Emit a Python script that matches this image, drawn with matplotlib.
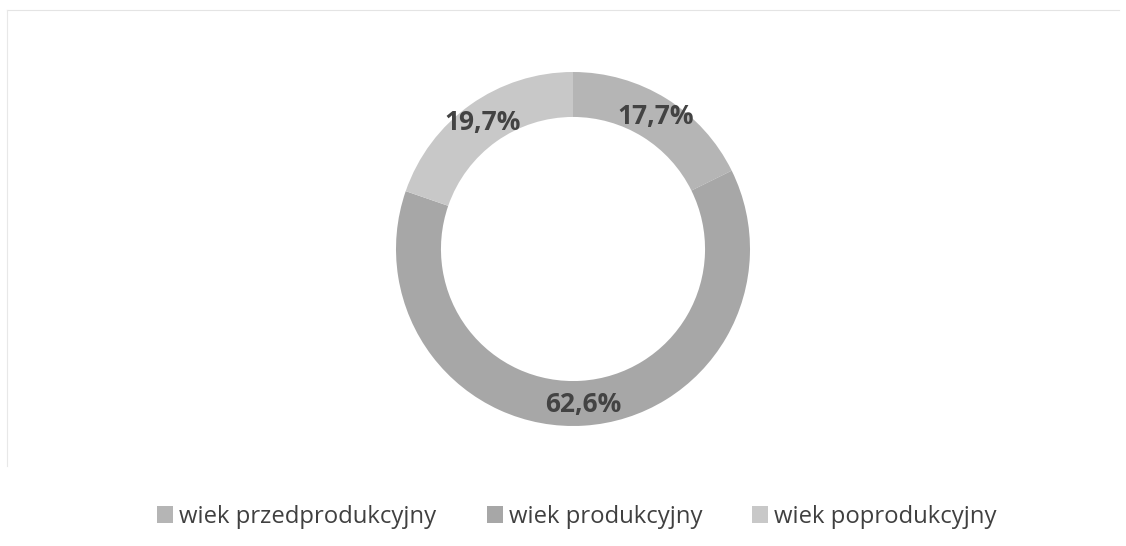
import numpy as np
import matplotlib.pyplot as plt
from matplotlib.lines import Line2D

categories = ["wiek przedprodukcyjny", "wiek produkcyjny", "wiek poprodukcyjny"]
shares = [17.7, 62.6, 19.7]
labels = ["17,7%", "62,6%", "19,7%"]
colors = ["#b5b5b5", "#a7a7a7", "#c8c8c8"]

W, H = 1126, 546
fig = plt.figure(figsize=(W / 100, H / 100), dpi=100)

# faint frame lines (top and left) of the chart area
fig.lines.append(Line2D([7 / W, 1 - 7 / W], [1 - 10 / H, 1 - 10 / H], transform=fig.transFigure,
                        color="#e4e4e4", linewidth=0.8))
fig.lines.append(Line2D([7 / W, 7 / W], [1 - 10 / H, 80 / H], transform=fig.transFigure,
                        color="#e8e8e8", linewidth=0.8))

cx, cy, half = 573, 249, 200
ax = fig.add_axes([(cx - half) / W, (H - cy - half) / H, 2 * half / W, 2 * half / H])
R = 177 / half

wedges, _ = ax.pie(shares, colors=colors, startangle=90, counterclock=False,
                   radius=1, wedgeprops=dict(width=0.254, edgecolor="none"))
ax.set_xlim(-1 / R, 1 / R)
ax.set_ylim(-1 / R, 1 / R)
ax.set_aspect("equal")
ax.axis("off")

start = 90.0
for s, lab in zip(shares, labels):
    mid = np.deg2rad(start - s * 3.6 / 2)
    start -= s * 3.6
    r = 0.88
    ax.text(r * np.cos(mid), r * np.sin(mid), lab, ha="center", va="center",
            fontsize=19, fontweight="bold", color="#434343", family="Open Sans")

fig.legend(wedges, categories, loc="center", bbox_to_anchor=(577 / W, (H - 517) / H),
           ncol=3, frameon=False, handlelength=0.67, handleheight=0.67,
           handletextpad=0.25, columnspacing=2.1, prop={"family": "Open Sans", "size": 17.2},
           labelcolor="#404040")

fig.savefig("out.png", dpi=100)
